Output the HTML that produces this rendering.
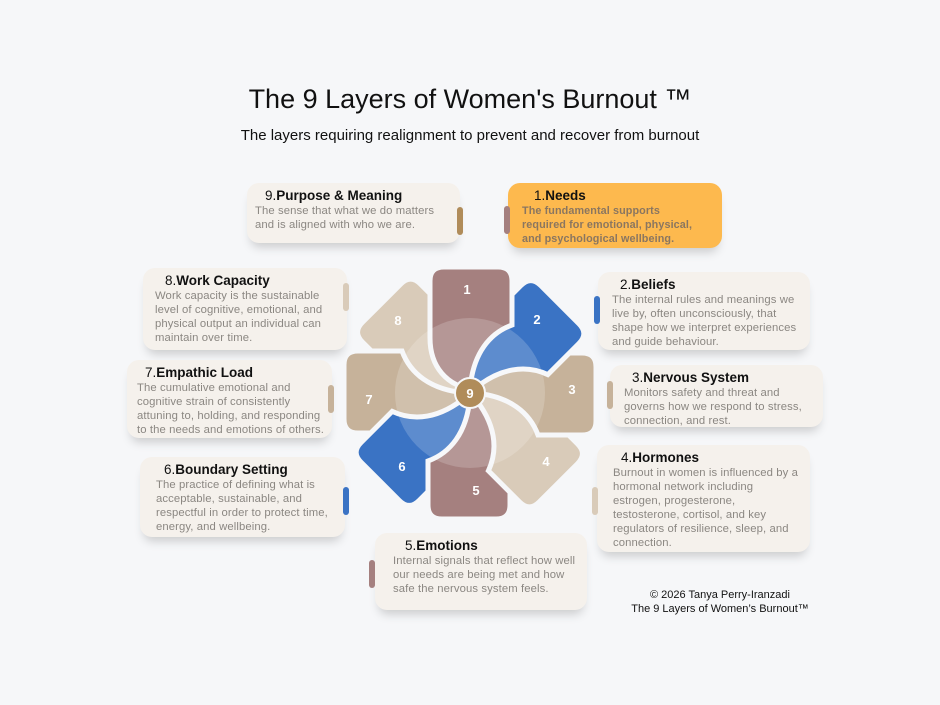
<!DOCTYPE html>
<html><head><meta charset="utf-8"><style>
body{margin:0;width:940px;height:705px;background:#f6f7f9;position:relative;overflow:hidden;font-family:"Liberation Sans",sans-serif}
.t{position:absolute;left:0;width:940px;text-align:center;color:#111}
.c{position:absolute;background:#f5f1ec;border-radius:12px;box-shadow:0 8px 10px -4px rgba(0,0,0,0.18);box-sizing:border-box;padding:5px 8px}
.c h4{margin:0 0 1px 0;font-size:13.5px;font-weight:bold;color:#111}
.c h4 span{font-weight:normal}
.c p{margin:0;font-size:11.3px;line-height:14px;color:#8b8782;letter-spacing:0.1px}
.b{position:absolute;width:6px;height:28px;border-radius:3px}
</style></head><body>
<div class="t" style="top:84px;font-size:27px">The 9 Layers of Women's Burnout ™</div>
<div class="t" style="top:127px;font-size:15px">The layers requiring realignment to prevent and recover from burnout</div>

<svg style="position:absolute;left:0;top:0" width="940" height="705">
<defs><path id="p" d="M 0,-4 C -22,-8 -40,-25 -40,-55 L -40,-112 Q -40,-126 -26,-126 L 28,-126 Q 42,-126 42,-112 L 42,-68 C 20,-60 3,-40 0,-4 Z" stroke="#f6f7f9" stroke-width="5"/></defs>
<g transform="translate(470,393)">
<use href="#p" fill="#d9cbb9" transform="rotate(315)"/>
<use href="#p" fill="#c6b29a" transform="rotate(270)"/>
<use href="#p" fill="#3a73c4" transform="rotate(225)"/>
<use href="#p" fill="#a5807f" transform="rotate(180)"/>
<use href="#p" fill="#d9cbb9" transform="rotate(135)"/>
<use href="#p" fill="#c6b29a" transform="rotate(90)"/>
<use href="#p" fill="#3a73c4" transform="rotate(45)"/>
<use href="#p" fill="#a5807f" transform="rotate(0)"/>
<circle r="75" fill="#fff" opacity="0.18"/>
<circle r="15" fill="#b08c5a" stroke="#f6f7f9" stroke-width="2"/>
<text x="0" y="5" text-anchor="middle" font-size="13" font-weight="bold" fill="#fff" font-family="Liberation Sans">9</text>
</g>
<g font-size="13" font-weight="bold" fill="#fff" text-anchor="middle" font-family="Liberation Sans">
<text x="467" y="294">1</text><text x="537" y="324">2</text><text x="572" y="394">3</text><text x="546" y="466">4</text>
<text x="476" y="495">5</text><text x="402" y="471">6</text><text x="369" y="404">7</text><text x="398" y="325">8</text>
</g>
</svg>

<div class="c" style="left:247px;top:183px;width:213px;height:60px"><h4 style="padding-left:10px"><span>9.</span>Purpose &amp; Meaning</h4><p>The sense that what we do matters and is aligned with who we are.</p></div>
<div class="b" style="left:457px;top:207px;background:#b08c5a"></div>
<div class="c" style="left:508px;top:183px;width:214px;height:65px;background:#fdb94e;padding-left:14px"><h4 style="padding-left:12px"><span>1.</span>Needs</h4><p style="color:#8a7660;font-weight:bold;font-size:10.8px;padding-right:20px">The fundamental supports required for emotional, physical, and psychological wellbeing.</p></div>
<div class="b" style="left:504px;top:206px;background:#a5807f"></div>
<div class="c" style="left:143px;top:268px;width:204px;height:82px;padding-left:12px"><h4 style="padding-left:10px"><span>8.</span>Work Capacity</h4><p>Work capacity is the sustainable level of cognitive, emotional, and physical output an individual can maintain over time.</p></div>
<div class="b" style="left:343px;top:283px;background:#d9cbb9"></div>
<div class="c" style="left:598px;top:272px;width:212px;height:78px;padding-left:14px"><h4 style="padding-left:8px"><span>2.</span>Beliefs</h4><p>The internal rules and meanings we live by, often unconsciously, that shape how we interpret experiences and guide behaviour.</p></div>
<div class="b" style="left:594px;top:296px;background:#3a73c4"></div>
<div class="c" style="left:127px;top:360px;width:205px;height:78px;padding-left:10px"><h4 style="padding-left:8px"><span>7.</span>Empathic Load</h4><p>The cumulative emotional and cognitive strain of consistently attuning to, holding, and responding to the needs and emotions of others.</p></div>
<div class="b" style="left:328px;top:385px;background:#c6b29a"></div>
<div class="c" style="left:610px;top:365px;width:213px;height:62px;padding-left:14px"><h4 style="padding-left:8px"><span>3.</span>Nervous System</h4><p>Monitors safety and threat and governs how we respond to stress, connection, and rest.</p></div>
<div class="b" style="left:607px;top:381px;background:#c6b29a"></div>
<div class="c" style="left:140px;top:457px;width:205px;height:80px;padding-left:16px"><h4 style="padding-left:8px"><span>6.</span>Boundary Setting</h4><p>The practice of defining what is acceptable, sustainable, and respectful in order to protect time, energy, and wellbeing.</p></div>
<div class="b" style="left:343px;top:487px;background:#3a73c4"></div>
<div class="c" style="left:597px;top:445px;width:213px;height:107px;padding-left:16px"><h4 style="padding-left:8px"><span>4.</span>Hormones</h4><p>Burnout in women is influenced by a hormonal network including estrogen, progesterone, testosterone, cortisol, and key regulators of resilience, sleep, and connection.</p></div>
<div class="b" style="left:592px;top:487px;background:#d9cbb9"></div>
<div class="c" style="left:375px;top:533px;width:212px;height:77px;padding-left:18px"><h4 style="padding-left:12px"><span>5.</span>Emotions</h4><p>Internal signals that reflect how well our needs are being met and how safe the nervous system feels.</p></div>
<div class="b" style="left:369px;top:560px;background:#a5807f"></div>

<div style="position:absolute;left:610px;top:588px;width:220px;text-align:center;font-size:11px;line-height:14px;color:#111">© 2026 Tanya Perry-Iranzadi<br>The 9 Layers of Women’s Burnout™</div>
</body></html>
